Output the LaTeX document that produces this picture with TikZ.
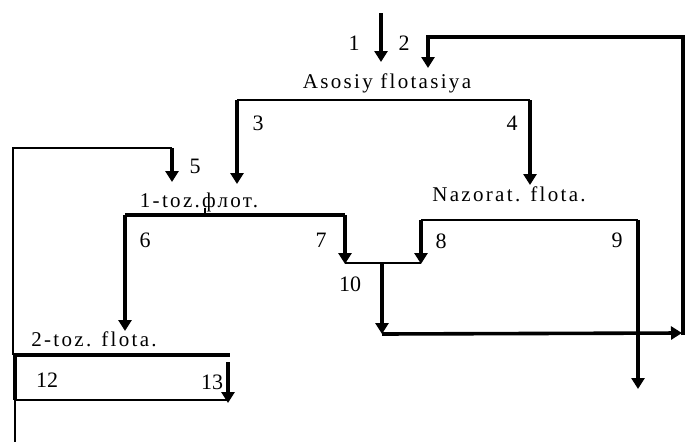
\documentclass[tikz,border=0pt]{standalone}
\usepackage{fontspec}
\setmainfont{Liberation Serif}
\newfontfamily\lblfont[LetterSpace=11]{Liberation Serif}
\usetikzlibrary{arrows.meta}
\begin{document}
\begin{tikzpicture}[x=1pt,y=-1pt,
  thk/.style={line width=3.6pt},
  thn/.style={line width=1.7pt},
  arr/.style={-{Triangle[length=11pt,width=13pt]}},
  lbl/.style={font=\fontsize{21}{22}\lblfont, inner sep=0pt, anchor=base},
  num/.style={font=\fontsize{22}{23}\selectfont, inner sep=0pt},
]
\useasboundingbox (0,0) rectangle (688,442);
% text nodes
\node[lbl] (asosiy) at (387,88) {Asosiy flotasiya};
\node[lbl] (toz1) at (199,207) {1-toz.флот.};
\node[lbl] (nazorat) at (509,201) {Nazorat. flota.};
\node[lbl] (toz2) at (94,346) {2-toz. flota.};
% number labels
\node[num] (n1) at (354,43) {1};
\node[num] (n2) at (404,43) {2};
\node[num] (n3) at (258,123) {3};
\node[num] (n4) at (512,123) {4};
\node[num] (n5) at (195,166) {5};
\node[num] (n6) at (145,240) {6};
\node[num] (n7) at (321,240) {7};
\node[num] (n8) at (441,241) {8};
\node[num] (n9) at (617,240) {9};
\node[num] (n10) at (350,284) {10};
\node[num] (n12) at (47,380) {12};
\node[num] (n13) at (212,382) {13};
% coordinates
\coordinate (p1s) at (381,13);
\coordinate (p1e) at (381,62);
\coordinate (rB) at (683,335);
\coordinate (rT) at (683,37);
\coordinate (rL) at (428,37);
\coordinate (p2e) at (428,68);
\coordinate (aL) at (237,100);
\coordinate (aR) at (530,100);
\coordinate (p3e) at (237,184);
\coordinate (p4e) at (530,185);
\coordinate (c5a) at (13,355);
\coordinate (c5b) at (13,148);
\coordinate (c5c) at (172,148);
\coordinate (p5e) at (172,182);
\coordinate (t1L) at (125,215);
\coordinate (t1R) at (345,215);
\coordinate (t1m) at (205,215);
\coordinate (t1t) at (205,208);
\coordinate (p6e) at (125,331);
\coordinate (p7e) at (345,264);
\coordinate (nL) at (421,220);
\coordinate (nR) at (638,220);
\coordinate (p8e) at (421,264);
\coordinate (p9e) at (638,389);
\coordinate (j10) at (382,263);
\coordinate (r10) at (382,334);
\coordinate (rR) at (682,333);
\coordinate (t2L) at (13,355);
\coordinate (t2R) at (230,355);
\coordinate (bxT) at (15,355);
\coordinate (bxB) at (15,400);
\coordinate (bxR) at (228,400);
\coordinate (p13s) at (228,362);
\coordinate (p13e) at (228,403);
\coordinate (bot) at (15,442);
% connectors
\draw[thk,arr] (p1s) -- (p1e);
\draw[thk,arr] (rB) -- (rT) -- (rL) -- (p2e);
\draw[thn] (aL) -- (aR);
\draw[thk,arr] (aL) -- (p3e);
\draw[thk,arr] (aR) -- (p4e);
\draw[thn] (c5a) -- (c5b) -- (c5c);
\draw[thk,arr] (c5c) -- (p5e);
\draw[thk] (t1L) -- (t1R);
\draw[thn] (t1t) -- (t1m);
\draw[thk,arr] (t1L) -- (p6e);
\draw[thk,arr] (t1R) -- (p7e);
\draw[thn] (nL) -- (nR);
\draw[thk,arr] (nL) -- (p8e);
\draw[thk,arr] (nR) -- (p9e);
\draw[thn] (345,263) -- (421,263);
\draw[thk,arr] (j10) -- (r10);
\draw[thk,arr] (r10) -- (rR);
\draw[thk] (t2L) -- (t2R);
\draw[thk] (bxT) -- (bxB);
\draw[thn] (bxB) -- (bxR);
\draw[thk,arr] (p13s) -- (p13e);
\draw[line width=2.5pt] (bxB) -- (bot);
\end{tikzpicture}
\end{document}
